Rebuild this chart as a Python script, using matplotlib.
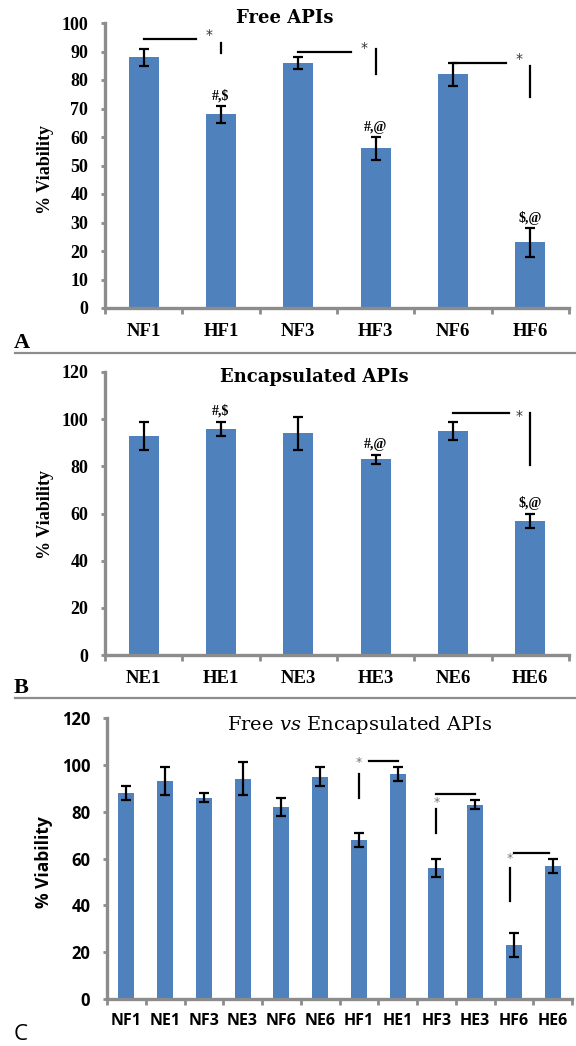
import numpy as np
import matplotlib
matplotlib.use('Agg')
import matplotlib.pyplot as plt
from matplotlib.lines import Line2D

# Data
free_labels = ['NF1', 'HF1', 'NF3', 'HF3', 'NF6', 'HF6']
free_vals = [88, 68, 86, 56, 82, 23]
free_err = [3, 3, 2, 4, 4, 5]

enc_labels = ['NE1', 'HE1', 'NE3', 'HE3', 'NE6', 'HE6']
enc_vals = [93, 96, 94, 83, 95, 57]
enc_err = [6, 3, 7, 2, 4, 3]

comb_labels = ['NF1', 'NE1', 'NF3', 'NE3', 'NF6', 'NE6', 'HF1', 'HE1', 'HF3', 'HE3', 'HF6', 'HE6']
comb_vals = [88, 93, 86, 94, 82, 95, 68, 96, 56, 83, 23, 57]
comb_err = [3, 6, 2, 7, 4, 4, 3, 3, 4, 2, 5, 3]

# group marks above bars
free_marks = ['', '#,$', '', '#,@', '', '$,@']
enc_marks = ['', '#,$', '', '#,@', '', '$,@']

W, H = 576, 1046
BLUE = '#4F81BD'
GRAY = '#8c8c8c'
SERIF = 'Liberation Serif'
TITLE_SERIF = 'DejaVu Serif'
SANS = 'Open Sans'

plt.rcParams['mathtext.fontset'] = 'dejavuserif'

fig = plt.figure(figsize=(W / 100, H / 100), dpi=100)


def px(x, y):
    return x / W, 1 - y / H


def make_axes(x0, x1, ytop, ybot):
    l, b = px(x0, ybot)
    return fig.add_axes([l, b, (x1 - x0) / W, (ybot - ytop) / H])


def style_axes(ax, n, ymax, ystep, font, ysize, xsize, xpad):
    ax.set_xlim(-0.5, n - 0.5)
    ax.set_ylim(0, ymax)
    ax.set_yticks(np.arange(0, ymax + 1, ystep))
    for s in ['top', 'right']:
        ax.spines[s].set_visible(False)
    for s in ['left', 'bottom']:
        ax.spines[s].set_color(GRAY)
        ax.spines[s].set_linewidth(2.4)
    ax.tick_params(axis='y', length=3, width=2, color=GRAY, pad=9)
    ax.tick_params(axis='x', which='major', length=0, pad=xpad)
    ax.set_xticks(np.arange(-0.5, n, 1), minor=True)
    ax.tick_params(axis='x', which='minor', length=4, width=2, color=GRAY)
    for t in ax.get_yticklabels():
        t.set_fontfamily(font)
        t.set_fontweight('bold')
        t.set_fontsize(ysize)
    for t in ax.get_xticklabels():
        t.set_fontfamily(font)
        t.set_fontweight('bold')
        t.set_fontsize(xsize)


# ---------- Panel A ----------
axA = make_axes(105, 569, 23, 308)
x = np.arange(len(free_labels))
axA.bar(x, free_vals, width=0.39, color=BLUE, zorder=2)
axA.errorbar(x, free_vals, yerr=free_err, fmt='none', ecolor='black',
             elinewidth=1.6, capsize=3.5, capthick=1.6, zorder=3)
axA.set_xticks(x)
axA.set_xticklabels(free_labels)
style_axes(axA, 6, 100, 10, SERIF, 13, 13.5, 11)
for i, m in enumerate(free_marks):
    if m:
        axA.text(i, free_vals[i] + free_err[i] + 1, m, ha='center', va='bottom',
                 fontfamily=SERIF, fontweight='bold', fontsize=10)
# significance brackets (start idx, line level, vertical bottom, vertical top)
for i0, lvl, vb, vt in [(0, 94.5, 89.5, 93), (2, 90, 82, 91), (4, 86, 74, 85)]:
    axA.plot([i0, i0 + 0.68], [lvl, lvl], color='black', lw=1.6)
    axA.text(i0 + 0.85, lvl + 1.2, '*', ha='center', va='center',
             fontsize=10, color='#333333')
    axA.plot([i0 + 1, i0 + 1], [vb, vt], color='black', lw=1.6)

# ---------- Panel B ----------
axB = make_axes(105, 569, 372, 655)
x = np.arange(len(enc_labels))
axB.bar(x, enc_vals, width=0.39, color=BLUE, zorder=2)
axB.errorbar(x, enc_vals, yerr=enc_err, fmt='none', ecolor='black',
             elinewidth=1.6, capsize=3.5, capthick=1.6, zorder=3)
axB.set_xticks(x)
axB.set_xticklabels(enc_labels)
style_axes(axB, 6, 120, 20, SERIF, 13, 13.5, 11)
for i, m in enumerate(enc_marks):
    if m:
        axB.text(i, enc_vals[i] + enc_err[i] + 1.5, m, ha='center', va='bottom',
                 fontfamily=SERIF, fontweight='bold', fontsize=10)
axB.plot([4, 4.72], [102.5, 102.5], color='black', lw=1.6)
axB.text(4.85, 101.5, '*', ha='center', va='center', fontsize=10, color='#333333')
axB.plot([5, 5], [80.5, 102.5], color='black', lw=1.6)

# ---------- Panel C ----------
axC = make_axes(107, 572, 718, 999)
x = np.arange(len(comb_labels))
axC.bar(x, comb_vals, width=0.41, color=BLUE, zorder=2)
axC.errorbar(x, comb_vals, yerr=comb_err, fmt='none', ecolor='black',
             elinewidth=1.6, capsize=3.5, capthick=1.6, zorder=3)
axC.set_xticks(x)
axC.set_xticklabels(comb_labels)
style_axes(axC, 12, 120, 20, SANS, 12, 11.5, 10)
# (x of vertical, vertical bottom, vertical top, star y, line start, line end, line y)
for xv, vb, vt, sy, l0, l1, ly in [(6, 86, 96, 101, 6.25, 7.0, 101.5),
                                   (8, 71, 81, 84, 8.0, 9.0, 87.5),
                                   (9.9, 42, 56, 60, 10.0, 10.9, 62.5)]:
    axC.plot([xv, xv], [vb, vt], color='black', lw=1.6)
    axC.text(xv, sy, '*', ha='center', va='center', fontsize=9, color='#777777')
    axC.plot([l0, l1], [ly, ly], color='black', lw=1.6)

# ---------- titles, labels, panel letters ----------
fig.text(*px(285, 18), 'Free APIs', ha='center', va='center',
         fontfamily=TITLE_SERIF, fontweight='bold', fontsize=13)
fig.text(*px(314, 377), 'Encapsulated APIs', ha='center', va='center',
         fontfamily=TITLE_SERIF, fontweight='bold', fontsize=13)
fig.text(*px(360, 725), 'Free $\\mathit{vs}$ Encapsulated APIs', ha='center', va='center',
         fontfamily=TITLE_SERIF, fontsize=14)

fig.text(*px(46, 170), '% Viability', rotation=90, ha='center', va='center',
         fontfamily=SERIF, fontweight='bold', fontsize=13)
fig.text(*px(46, 514), '% Viability', rotation=90, ha='center', va='center',
         fontfamily=SERIF, fontweight='bold', fontsize=13)
fig.text(*px(44, 862), '% Viability', rotation=90, ha='center', va='center',
         fontfamily=SANS, fontweight='bold', fontsize=12.5)

fig.text(*px(14, 343), 'A', ha='left', va='center', fontfamily=SERIF,
         fontweight='bold', fontsize=16)
fig.text(*px(14, 688), 'B', ha='left', va='center', fontfamily=SERIF,
         fontweight='bold', fontsize=16)
fig.text(*px(14, 1034), 'C', ha='left', va='center', fontfamily=SANS, fontsize=16)

for yy in [353, 698]:
    fig.add_artist(Line2D([15 / W, 1], [1 - yy / H, 1 - yy / H],
                          color=GRAY, lw=1.6, transform=fig.transFigure))

fig.savefig('out.png', dpi=100)
